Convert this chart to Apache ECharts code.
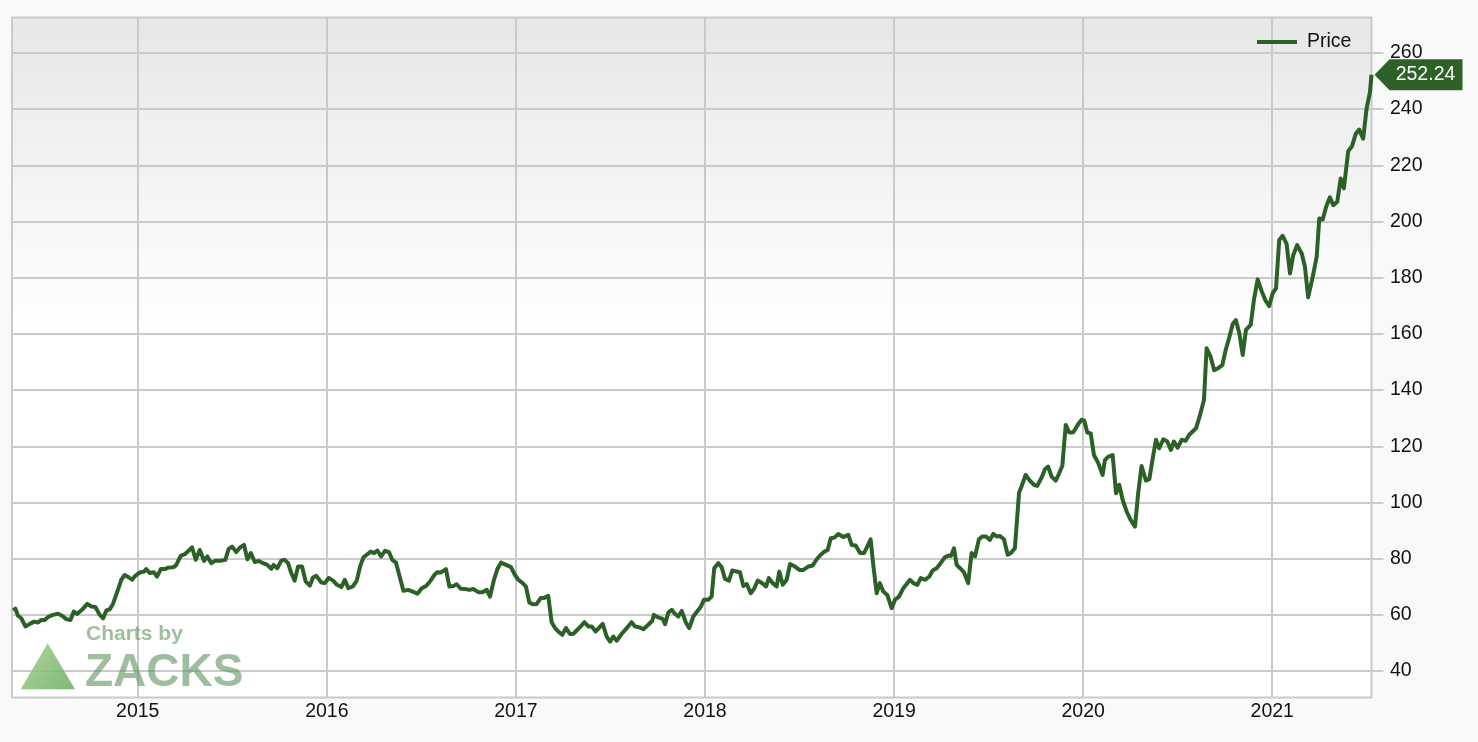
<!DOCTYPE html>
<html><head><meta charset="utf-8">
<script src="https://cdn.jsdelivr.net/npm/echarts@6/dist/echarts.min.js"></script>
<style>html,body{margin:0;padding:0;background:#f9f9f9}#c{width:1478px;height:742px}</style>
</head><body><div id="c"></div><script>
// Decimal-year positions of the weekly closes
const years = [
2014.341,2014.353,2014.367,2014.384,2014.406,2014.429,2014.452,2014.473,2014.490,2014.508,2014.529,2014.552,2014.579,2014.600,2014.622,2014.644,2014.662,2014.679,2014.705,2014.733,2014.755,2014.776,2014.799,2014.817,2014.834,2014.852,2014.869,2014.892,2014.913,2014.931,2014.952,2014.970,2014.987,
2015.011,2015.033,2015.045,2015.063,2015.085,2015.102,2015.122,2015.143,2015.160,2015.190,2015.204,2015.227,2015.249,2015.270,2015.287,2015.307,2015.328,2015.351,2015.368,2015.389,2015.410,2015.442,2015.463,2015.481,2015.499,2015.521,2015.543,2015.562,2015.580,2015.598,2015.619,2015.640,2015.663,2015.685,2015.707,2015.719,2015.738,2015.759,2015.777,2015.795,2015.812,2015.830,2015.848,2015.869,2015.888,2015.910,2015.927,2015.944,2015.971,2015.989,
2016.010,2016.033,2016.054,2016.077,2016.095,2016.114,2016.137,2016.158,2016.176,2016.193,2016.211,2016.232,2016.250,2016.267,2016.287,2016.308,2016.329,2016.346,2016.366,2016.383,2016.405,2016.431,2016.454,2016.479,2016.502,2016.525,2016.546,2016.569,2016.584,2016.604,2016.630,2016.648,2016.669,2016.687,2016.708,2016.731,2016.754,2016.775,2016.801,2016.824,2016.846,2016.863,2016.884,2016.902,2016.921,2016.948,2016.974,2016.995,
2017.013,2017.036,2017.053,2017.071,2017.089,2017.110,2017.131,2017.149,2017.171,2017.189,2017.207,2017.224,2017.245,2017.265,2017.286,2017.304,2017.325,2017.343,2017.362,2017.383,2017.401,2017.422,2017.441,2017.459,2017.480,2017.498,2017.515,2017.533,2017.560,2017.586,2017.612,2017.630,2017.656,2017.674,2017.700,2017.721,2017.730,2017.753,2017.776,2017.789,2017.806,2017.824,2017.841,2017.859,2017.877,2017.898,2017.917,2017.938,2017.977,2017.995,
2018.017,2018.035,2018.049,2018.070,2018.088,2018.106,2018.127,2018.144,2018.185,2018.203,2018.221,2018.242,2018.259,2018.279,2018.303,2018.323,2018.338,2018.358,2018.379,2018.393,2018.411,2018.432,2018.450,2018.476,2018.499,2018.520,2018.546,2018.570,2018.591,2018.612,2018.631,2018.649,2018.665,2018.684,2018.705,2018.731,2018.758,2018.776,2018.797,2018.820,2018.841,2018.858,2018.876,2018.890,2018.908,2018.925,2018.943,2018.964,2018.987,
2019.005,2019.026,2019.049,2019.084,2019.102,2019.123,2019.141,2019.163,2019.186,2019.204,2019.225,2019.246,2019.269,2019.287,2019.301,2019.317,2019.331,2019.349,2019.370,2019.392,2019.410,2019.428,2019.449,2019.466,2019.486,2019.507,2019.525,2019.543,2019.560,2019.581,2019.601,2019.618,2019.639,2019.661,2019.675,2019.696,2019.719,2019.740,2019.757,2019.781,2019.798,2019.815,2019.833,2019.855,2019.872,2019.890,2019.908,2019.927,2019.948,2019.974,2019.992,
2020.006,2020.022,2020.040,2020.057,2020.080,2020.103,2020.115,2020.133,2020.156,2020.174,2020.191,2020.209,2020.230,2020.251,2020.274,2020.291,2020.309,2020.332,2020.350,2020.368,2020.385,2020.402,2020.424,2020.445,2020.464,2020.480,2020.500,2020.521,2020.542,2020.560,2020.597,2020.618,2020.639,2020.653,2020.674,2020.693,2020.714,2020.736,2020.754,2020.773,2020.791,2020.808,2020.826,2020.844,2020.861,2020.886,2020.903,2020.923,2020.944,2020.965,2020.984,
2021.002,2021.020,2021.037,2021.055,2021.076,2021.094,2021.111,2021.132,2021.156,2021.173,2021.190,2021.214,2021.235,2021.249,2021.267,2021.284,2021.305,2021.323,2021.344,2021.362,2021.379,2021.402,2021.422,2021.441,2021.460,2021.481,2021.499,2021.517,2021.525
];
const prices = [
61.6,62.2,59.7,58.8,55.9,56.8,57.6,57.3,58.2,58.2,59.4,60.0,60.4,59.7,58.5,58.2,61.2,60.3,61.8,63.9,63.0,62.8,60.0,58.8,61.6,62.0,63.9,68.3,72.5,74.2,73.4,72.5,73.9,
75.1,75.4,76.3,74.9,75.2,73.6,76.3,76.3,76.8,77.0,77.8,81.0,81.6,82.9,84.0,79.6,83.1,79.2,80.8,78.4,79.3,79.3,79.6,83.5,84.3,82.4,84.1,84.9,79.8,82.0,78.8,79.2,78.4,77.8,76.4,77.8,76.6,79.3,79.6,78.4,74.9,72.2,77.2,77.2,71.9,70.4,73.3,73.9,71.5,71.3,
73.1,72.2,70.7,69.9,72.5,69.5,70.1,72.1,77.2,80.4,81.4,82.5,82.0,82.9,80.8,82.8,82.3,79.6,78.6,74.2,68.6,68.9,68.3,67.5,69.5,70.3,71.9,74.2,75.2,75.1,76.3,70.1,70.3,70.9,69.3,69.2,68.9,69.2,68.1,68.1,68.9,66.5,72.5,76.3,78.6,77.8,77.0,74.2,
72.5,71.3,70.1,64.4,63.8,63.9,66.0,66.0,66.8,57.4,55.3,54.1,52.9,55.3,53.2,53.3,54.7,55.9,57.4,55.9,55.9,54.1,55.5,56.8,52.3,50.5,52.3,50.8,53.3,55.3,57.4,55.9,55.5,54.9,56.5,57.9,60.0,59.1,58.6,56.7,60.8,61.8,60.4,59.4,61.4,57.4,55.3,59.4,62.8,65.4,
65.4,66.5,76.6,78.4,77.0,72.8,72.2,75.8,75.2,70.3,71.0,67.7,69.2,72.2,71.3,70.1,73.1,71.3,70.1,75.4,70.7,72.5,78.1,77.2,76.0,76.0,77.2,77.6,79.8,81.4,82.5,83.1,87.3,87.5,88.8,87.7,88.5,84.9,84.7,82.0,82.0,84.3,86.9,77.8,67.7,71.3,68.3,67.1,62.4,
65.4,66.5,69.5,72.5,71.3,70.7,73.1,72.5,73.6,75.8,76.6,78.4,80.5,81.1,81.0,83.7,77.8,76.6,75.1,71.3,82.0,80.8,86.9,87.9,87.9,86.7,88.8,87.9,88.1,86.9,81.4,82.0,83.7,103.5,105.9,109.8,107.7,106.3,105.9,109.0,111.8,112.8,109.2,107.8,110.2,113.1,127.6,124.9,125.0,127.9,129.4,
129.1,124.9,124.6,116.9,114.0,109.8,115.1,116.3,116.9,103.3,106.3,100.9,96.8,93.8,91.4,103.3,113.0,107.8,108.3,115.7,122.3,119.3,122.5,121.7,118.7,121.7,119.5,122.3,122.0,124.0,126.4,131.1,136.5,154.9,151.9,147.1,147.8,148.9,154.3,158.8,163.5,164.9,160.2,152.5,161.4,163.2,172.0,179.4,175.2,171.8,169.9,
174.4,176.2,193.4,194.9,192.0,181.5,188.0,191.6,188.6,183.9,173.0,180.3,187.4,201.1,200.7,205.0,208.6,205.8,207.0,215.3,211.8,225.1,226.8,231.1,232.7,229.5,240.2,246.1,252.24
];
const xTickYears = [2015, 2016, 2017, 2018, 2019, 2020, 2021];
const yTickValues = [40, 60, 80, 100, 120, 140, 160, 180, 200, 220, 240, 260];
const seriesName = 'Price';
const watermarkTop = 'Charts by';
const watermarkBrand = 'ZACKS';

const FONT = "'Liberation Sans', Arial, Helvetica, sans-serif";
const GRID_C = '#cacaca';
const GREEN = '#2b6127';

const pts = years.map((y, i) => [y, prices[i]]);
const lastPt = pts[pts.length - 1];

const chart = echarts.init(document.getElementById('c'), null, {renderer: 'canvas'});
chart.setOption({
  animation: false,
  backgroundColor: '#f9f9f9',
  grid: {
    show: true, left: 12, top: 17.5, right: 106.5, bottom: 44.5,
    borderColor: GRID_C, borderWidth: 2,
    backgroundColor: {type: 'linear', x: 0, y: 0, x2: 0, y2: 1,
      colorStops: [{offset: 0, color: '#e7e7e7'}, {offset: 0.46, color: '#ffffff'}, {offset: 1, color: '#ffffff'}]}
  },
  legend: {
    show: true, left: 1257, top: 32, padding: 0,
    icon: 'rect', itemWidth: 40, itemHeight: 4,
    textStyle: {fontSize: 19.5, color: '#111', fontFamily: FONT, padding: [0, 0, 0, 5]},
    data: [seriesName]
  },
  xAxis: {
    type: 'value', min: 2014.335, max: 2021.525,
    axisLine: {show: false},
    axisTick: {show: false, customValues: xTickYears},
    axisLabel: {customValues: xTickYears, fontSize: 19.5, color: '#111', fontFamily: FONT, margin: 4,
      formatter: v => String(Math.round(v))},
    splitLine: {show: true, lineStyle: {color: GRID_C, width: 2}}
  },
  yAxis: {
    type: 'value', position: 'right', min: 30.6, max: 272.6,
    axisLine: {show: false},
    axisTick: {show: true, length: 12, customValues: yTickValues, lineStyle: {color: GRID_C, width: 2}},
    axisLabel: {customValues: yTickValues, fontSize: 19.5, color: '#111', fontFamily: FONT, margin: 18.5},
    splitLine: {show: true, lineStyle: {color: GRID_C, width: 2}}
  },
  graphic: [
    {type: 'polygon', z: 1, silent: true,
      shape: {points: [[47.7, 643.3], [20.7, 689.3], [75, 689.3]]},
      style: {fill: {type: 'linear', x: 0, y: 0, x2: 1, y2: 1,
        colorStops: [{offset: 0, color: 'rgba(160,210,135,0.85)'}, {offset: 1, color: 'rgba(105,170,95,0.85)'}]}}},
    {type: 'text', z: 1, silent: true, left: 86, top: 624,
      style: {text: watermarkTop, font: "bold 21px " + FONT, fill: 'rgba(95,145,95,0.6)'}},
    {type: 'text', z: 1, silent: true, left: 85, top: 650,
      style: {text: watermarkBrand, font: "bold 46px " + FONT, fill: 'rgba(95,145,95,0.6)'}}
  ],
  series: [{
    name: seriesName, type: 'line', data: pts,
    showSymbol: false, symbol: 'none',
    lineStyle: {color: GREEN, width: 4, join: 'round'},
    itemStyle: {color: GREEN},
    z: 3,
    markPoint: {
      symbol: 'path://M0,15.5 L15,0 L88,0 L88,31 L15,31 Z',
      symbolSize: [88, 31], symbolKeepAspect: false,
      symbolOffset: [47, 0],
      itemStyle: {color: '#2d6128'},
      label: {show: true, position: 'inside', offset: [7, 0], color: '#fff', fontSize: 19.5, fontFamily: FONT,
        formatter: p => Number(p.value).toFixed(2)},
      data: [{coord: lastPt, value: lastPt[1]}]
    }
  }]
});
</script></body></html>
